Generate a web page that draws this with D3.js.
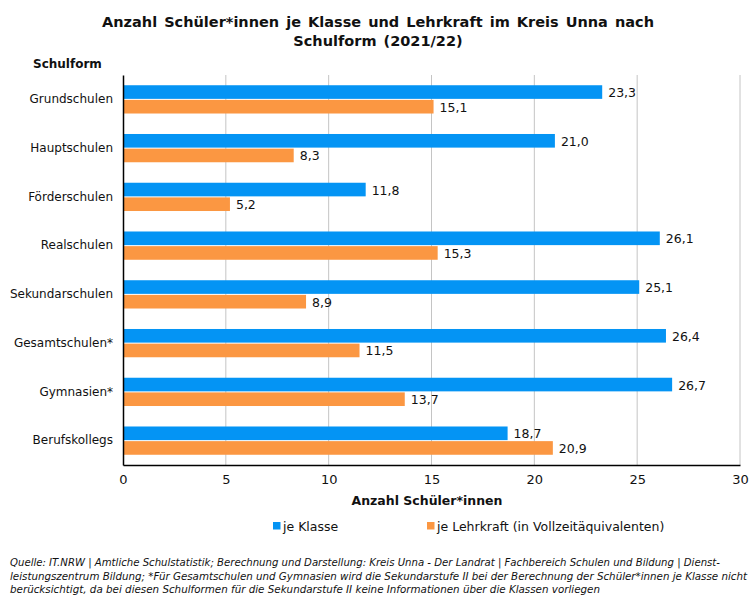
<!DOCTYPE html>
<html>
<head>
<meta charset="utf-8">
<script src="https://cdn.jsdelivr.net/npm/d3@7"></script>
<style>
	body { margin: 0; background: #fff; }
	text { font-family: "DejaVu Sans", sans-serif; fill: #111; }
</style>
</head>
<body>
<div id="chart"></div>
<script>
// DATA
const categories = ["Grundschulen", "Hauptschulen", "Förderschulen", "Realschulen", "Sekundarschulen", "Gesamtschulen*", "Gymnasien*", "Berufskollegs"];
const seriesNames = ["je Klasse", "je Lehrkraft (in Vollzeitäquivalenten)"];
const jeKlasse = [23.3, 21.0, 11.8, 26.1, 25.1, 26.4, 26.7, 18.7];
const jeLehrkraft = [15.1, 8.3, 5.2, 15.3, 8.9, 11.5, 13.7, 20.9];
const xTicks = [0, 5, 10, 15, 20, 25, 30];
const titleLines = ["Anzahl Schüler*innen je Klasse und Lehrkraft im Kreis Unna nach", "Schulform (2021/22)"];
const footLines = [
	"Quelle: IT.NRW | Amtliche Schulstatistik; Berechnung und Darstellung: Kreis Unna - Der Landrat | Fachbereich Schulen und Bildung | Dienst-",
	"leistungszentrum Bildung; *Für Gesamtschulen und Gymnasien wird die Sekundarstufe II bei der Berechnung  der Schüler*innen je Klasse nicht",
	"berücksichtigt, da bei diesen Schulformen für die Sekundarstufe II keine Informationen über die Klassen vorliegen"
];
const footWidths = [710, 737, 590];
const colors = ["#0494f4", "#fb9742"];

const W = 756, H = 601;
const margin = { top: 75, right: 16, bottom: 136, left: 123 };
const width = W - margin.left - margin.right;
const height = H - margin.top - margin.bottom;

const svg = d3.select("#chart").append("svg")
	.attr("width", W)
	.attr("height", H);

// TITLE
svg.append("g").selectAll("text")
	.data(titleLines)
	.join("text")
	.attr("x", 378)
	.attr("y", (d, i) => 27 + i * 19)
	.attr("text-anchor", "middle")
	.attr("font-size", 14.5)
	.attr("font-weight", "bold")
	.attr("word-spacing", 2)
	.text(d => d);

svg.append("text")
	.attr("x", 33).attr("y", 68)
	.attr("font-size", 12).attr("font-weight", "bold")
	.text("Schulform");

const g = svg.append("g").attr("transform", `translate(${margin.left},${margin.top})`);

const x = d3.scaleLinear().domain([0, 30]).range([0, width]);
const y = d3.scaleBand().domain(categories).range([0, height]).paddingInner(0.42).paddingOuter(0.21);
const ySub = d3.scaleBand().domain([0, 1]).range([0, y.bandwidth()]).paddingInner(0.07);

// GRID
g.append("g").selectAll("line")
	.data(xTicks.slice(1))
	.join("line")
	.attr("x1", d => x(d)).attr("x2", d => x(d))
	.attr("y1", 0).attr("y2", height)
	.attr("stroke", "#c4c4c4").attr("stroke-width", 1);

// BARS
const rows = categories.map((c, i) => ({ cat: c, vals: [jeKlasse[i], jeLehrkraft[i]] }));
const fmt = v => d3.format(".1f")(v).replace(".", ",");

const grp = g.selectAll(".grp")
	.data(rows)
	.join("g")
	.attr("transform", d => `translate(0,${y(d.cat)})`);

grp.selectAll("rect")
	.data(d => d.vals)
	.join("rect")
	.attr("x", 0)
	.attr("y", (d, i) => ySub(i))
	.attr("width", d => x(d))
	.attr("height", ySub.bandwidth())
	.attr("fill", (d, i) => colors[i]);

grp.selectAll(".val")
	.data(d => d.vals)
	.join("text")
	.attr("class", "val")
	.attr("x", d => x(d) + 6)
	.attr("y", (d, i) => ySub(i) + ySub.bandwidth() / 2 + 5)
	.attr("font-size", 12.5)
	.text(d => fmt(d));

// AXES
const xAxis = g.append("g")
	.attr("transform", `translate(0,${height})`)
	.call(d3.axisBottom(x).tickValues(xTicks).tickSize(0).tickPadding(10).tickFormat(d3.format("d")));
xAxis.select(".domain").attr("stroke", "#000").attr("stroke-width", 1.5);
xAxis.selectAll("text").attr("font-size", 13).attr("font-family", "DejaVu Sans").attr("fill", "#111");

const yAxis = g.append("g")
	.call(d3.axisLeft(y).tickSize(0).tickPadding(10));
yAxis.select(".domain").attr("stroke", "#000").attr("stroke-width", 1.5);
yAxis.selectAll("text").attr("font-size", 12).attr("font-family", "DejaVu Sans").attr("fill", "#111");

// AXIS TITLE
svg.append("text")
	.attr("x", 427).attr("y", 505)
	.attr("text-anchor", "middle")
	.attr("font-size", 12.5).attr("font-weight", "bold")
	.text("Anzahl  Schüler*innen");

// LEGEND
const legX = [273, 427];
const leg = svg.append("g").selectAll("g")
	.data(seriesNames)
	.join("g")
	.attr("transform", (d, i) => `translate(${legX[i]},522)`);
leg.append("rect").attr("width", 7.5).attr("height", 7.5).attr("fill", (d, i) => colors[i]);
leg.append("text").attr("x", 10).attr("y", 8.5).attr("font-size", 12.5).text(d => d);

// FOOTNOTE
svg.append("g").selectAll("text")
	.data(footLines)
	.join("text")
	.attr("x", 10)
	.attr("y", (d, i) => 566 + i * 13.5)
	.attr("font-family", "Liberation Sans")
	.attr("font-style", "italic")
	.attr("font-size", 10)
	.attr("textLength", (d, i) => footWidths[i])
	.attr("lengthAdjust", "spacingAndGlyphs")
	.text(d => d);
</script>
</body>
</html>
